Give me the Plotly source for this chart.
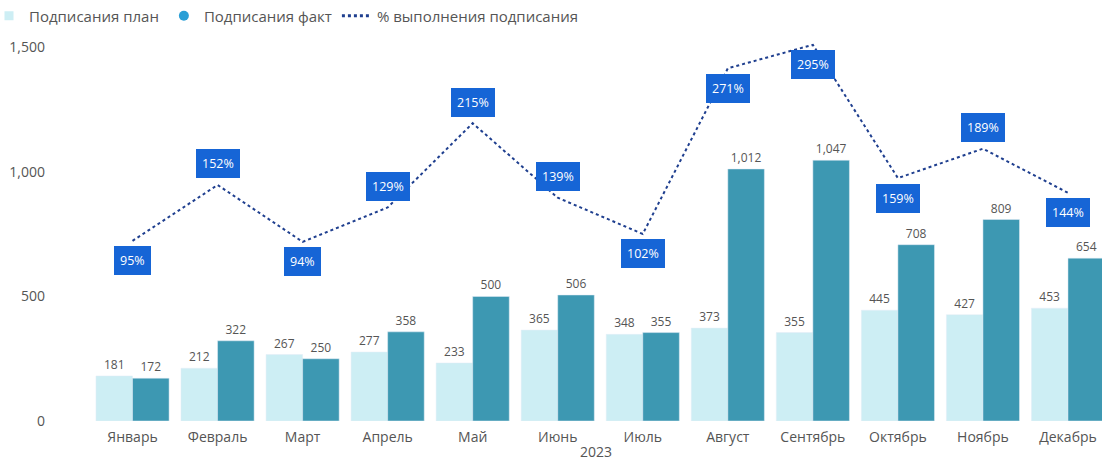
import plotly.graph_objects as go

months = ["Январь", "Февраль", "Март", "Апрель", "Май", "Июнь", "Июль",
          "Август", "Сентябрь", "Октябрь", "Ноябрь", "Декабрь"]
plan = [181, 212, 267, 277, 233, 365, 348, 373, 355, 445, 427, 453]
fact = [172, 322, 250, 358, 500, 506, 355, 1012, 1047, 708, 809, 654]
pct = [0.95, 1.52, 0.94, 1.29, 2.15, 1.39, 1.02, 2.71, 2.95, 1.59, 1.89, 1.44]
pct_label_side = ["below", "above", "below", "above", "above", "above",
                  "below", "below", "below", "below", "above", "below"]
y_ticks = [0, 500, 1000, 1500]

FONT = "Open Sans"
GREY = "#555555"
PLAN_COLOR = "#cdeef4"
FACT_COLOR = "#3d98b2"
LINE_COLOR = "#1f3f8f"
BOX_COLOR = "#1665d6"

fig = go.Figure()
fig.add_trace(go.Bar(
    x=months, y=plan, name="Подписания план", showlegend=False,
    marker=dict(color=PLAN_COLOR),
    text=[f"{v:,}" for v in plan], textposition="outside",
    textfont=dict(size=12, color=GREY, family=FONT), cliponaxis=False,
))
fig.add_trace(go.Bar(
    x=months, y=fact, name="Подписания факт", showlegend=False,
    marker=dict(color=FACT_COLOR),
    text=[f"{v:,}" for v in fact], textposition="outside",
    textfont=dict(size=12, color=GREY, family=FONT), cliponaxis=False,
))
fig.add_trace(go.Scatter(
    x=months, y=pct, name="% выполнения подписания", yaxis="y2",
    mode="lines", line=dict(color=LINE_COLOR, width=2, dash="dot"),
    showlegend=False,
))
# legend entries (symbols as in the reference)
fig.add_trace(go.Scatter(x=[None], y=[None], mode="markers", name="Подписания план",
                         marker=dict(symbol="square", size=9, color=PLAN_COLOR)))
fig.add_trace(go.Scatter(x=[None], y=[None], mode="markers", name="Подписания факт",
                         marker=dict(symbol="circle", size=10, color="#2a9fd6")))
fig.add_trace(go.Scatter(x=[None], y=[None], mode="lines", name="% выполнения подписания",
                         line=dict(color=LINE_COLOR, width=3, dash="dot")))

for m, p, side in zip(months, pct, pct_label_side):
    fig.add_annotation(
        x=m, y=p, xref="x", yref="y2", text=f"{round(p*100)}%",
        showarrow=False, yshift=21 if side == "above" else -20,
        font=dict(size=12.5, color="white", family=FONT),
        bgcolor=BOX_COLOR, bordercolor=BOX_COLOR, borderpad=5,
    )

fig.update_layout(
    width=1102, height=461,
    margin=dict(l=90, r=0, t=35, b=40, autoexpand=False),
    paper_bgcolor="white", plot_bgcolor="white",
    barmode="group", bargap=0.14, bargroupgap=0.0,
    font=dict(family=FONT, size=13, color=GREY),
    showlegend=True,
    legend=dict(orientation="h", x=-0.0998, xanchor="left", y=1.049, yanchor="middle",
                font=dict(size=15, color=GREY), itemwidth=30,
                traceorder="normal"),
    xaxis=dict(range=[-0.5, 11.4], showgrid=False, showline=False, ticks="",
               automargin=False, ticklabelstandoff=6,
               tickfont=dict(size=14, color=GREY),
               title=dict(text="2023", font=dict(size=14, color=GREY), standoff=4)),
    yaxis=dict(range=[0, 1550], tickvals=y_ticks, tickformat=",d",
               showgrid=False, zeroline=False, showline=False, ticks="",
               automargin=False,
               ticklabelstandoff=44, tickfont=dict(size=14, color=GREY)),
    yaxis2=dict(range=[-0.888, 3.05], overlaying="y", side="right",
                visible=False, showgrid=False),
)

fig.write_html("out.html", config={"displayModeBar": False},
               post_script="document.body.style.margin='0';")
